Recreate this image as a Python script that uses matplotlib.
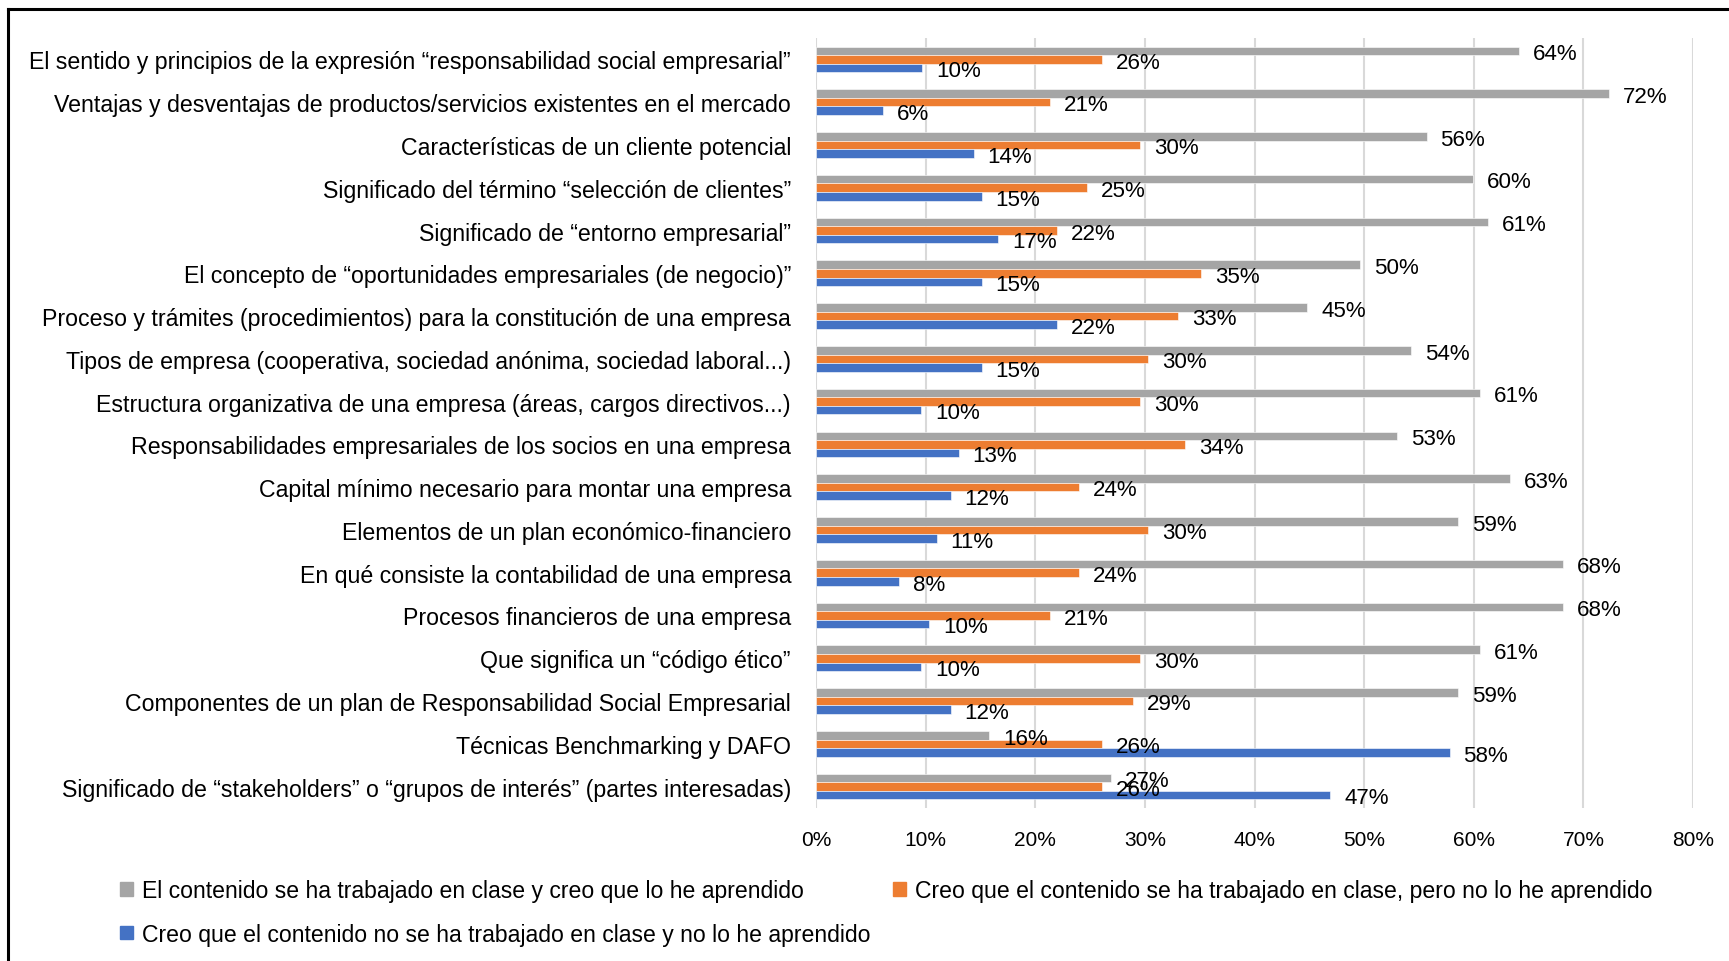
import matplotlib
matplotlib.use("Agg")
import matplotlib.pyplot as plt
from matplotlib.lines import Line2D
from matplotlib.patches import Patch
from matplotlib import font_manager
import numpy as np

categories = [
    "El sentido y principios de la expresión “responsabilidad social empresarial”",
    "Ventajas y desventajas de productos/servicios existentes en el mercado",
    "Características de un cliente potencial",
    "Significado del término “selección de clientes”",
    "Significado de “entorno empresarial”",
    "El concepto de “oportunidades empresariales (de negocio)”",
    "Proceso y trámites (procedimientos) para la constitución de una empresa",
    "Tipos de empresa (cooperativa, sociedad anónima, sociedad laboral...)",
    "Estructura organizativa de una empresa (áreas, cargos directivos...)",
    "Responsabilidades empresariales de los socios en una empresa",
    "Capital mínimo necesario para montar una empresa",
    "Elementos de un plan económico-financiero",
    "En qué consiste la contabilidad de una empresa",
    "Procesos financieros de una empresa",
    "Que significa un “código ético”",
    "Componentes de un plan de Responsabilidad Social Empresarial",
    "Técnicas Benchmarking y DAFO",
    "Significado de “stakeholders” o “grupos de interés” (partes interesadas)",
]

aprendido = [64.1, 72.3, 55.7, 59.9, 61.3, 49.6, 44.8, 54.3, 60.6, 53.0, 63.3, 58.6, 68.1, 68.1, 60.6, 58.6, 15.8, 26.9]
no_aprendido = [26.1, 21.3, 29.6, 24.7, 22.0, 35.1, 33.0, 30.3, 29.6, 33.7, 24.0, 30.3, 24.0, 21.3, 29.6, 28.9, 26.1, 26.1]
no_trabajado = [9.7, 6.1, 14.4, 15.1, 16.6, 15.1, 22.0, 15.1, 9.6, 13.0, 12.3, 11.0, 7.6, 10.3, 9.6, 12.3, 57.8, 46.9]

series_names = [
    "El contenido se ha trabajado en clase y creo que lo he aprendido",
    "Creo que el contenido se ha trabajado en clase, pero no lo he aprendido",
    "Creo que el contenido no se ha trabajado en clase y no lo he aprendido",
]
colors = ["#A5A5A5", "#ED7D31", "#4472C4"]
xticks = [0, 10, 20, 30, 40, 50, 60, 70, 80]
xtick_labels = ["0%", "10%", "20%", "30%", "40%", "50%", "60%", "70%", "80%"]

available = {f.name for f in font_manager.fontManager.ttflist}
fam = ["Liberation Sans Narrow", "DejaVu Sans"] if "Liberation Sans Narrow" in available else ["Liberation Sans", "DejaVu Sans"]
plt.rcParams["font.family"] = fam

W, H = 1729, 962
fig = plt.figure(figsize=(W / 100, H / 100), dpi=100)
renderer = fig.canvas.get_renderer()


def fit_size(text, target_px):
    t = fig.text(0, 0, text, fontsize=10)
    w = t.get_window_extent(renderer).width
    t.remove()
    return 10 * target_px / w


cat_fs = fit_size(categories[0], 766)
leg_fs = fit_size(series_names[1], 739)
lab_fs = fit_size("64%", 45)
tick_fs = fit_size("80%", 42)

ax = fig.add_axes([816 / W, 1 - 809 / H, (1693 - 816) / W, (809 - 39) / H])

y = np.arange(len(categories))
bh = 0.2
offsets = [-bh, 0, bh]
for vals, off, c in zip([aprendido, no_aprendido, no_trabajado], offsets, colors):
    ax.barh(y + off, vals, height=bh, color=c, zorder=3, edgecolor="white", linewidth=0.4)
    for v, yy in zip(vals, y + off):
        ax.annotate(f"{v:.0f}%", xy=(v, yy), xytext=(10, -2), textcoords="offset points",
                    ha="left", va="center", fontsize=lab_fs, color="#000000", zorder=4)

ax.set_xlim(0, 80)
ax.set_ylim(len(categories) - 0.5, -0.5)
ax.set_xticks(xticks)
ax.set_xticklabels(xtick_labels, fontsize=tick_fs)
ax.set_yticks(y)
ax.set_yticklabels(categories, fontsize=cat_fs)
ax.tick_params(axis="both", length=0)
ax.tick_params(axis="x", pad=16)
ax.tick_params(axis="y", pad=18)
ax.grid(axis="x", color="#D9D9D9", linewidth=1.5, zorder=0)
for s in ax.spines.values():
    s.set_visible(False)

handles = [Patch(color=colors[0]), Patch(color=colors[2]), Patch(color=colors[1])]
labels = [series_names[0], series_names[2], series_names[1]]
fig.legend(handles, labels, loc="upper left", bbox_to_anchor=(120 / W, 1 - 880 / H), ncol=2,
           frameon=False, fontsize=leg_fs, handlelength=0.55, handleheight=0.55, handletextpad=0.4,
           columnspacing=1.0, labelspacing=0.9, borderaxespad=0, borderpad=0)

# outer frame (left and top edges visible)
fig.add_artist(Line2D([8 / W, 8 / W], [0, 1 - 10 / H], color="black", linewidth=2.2, transform=fig.transFigure))
fig.add_artist(Line2D([8 / W, 1], [1 - 10 / H, 1 - 10 / H], color="black", linewidth=2.2, transform=fig.transFigure))

fig.savefig("out.png", dpi=100, facecolor="white")
